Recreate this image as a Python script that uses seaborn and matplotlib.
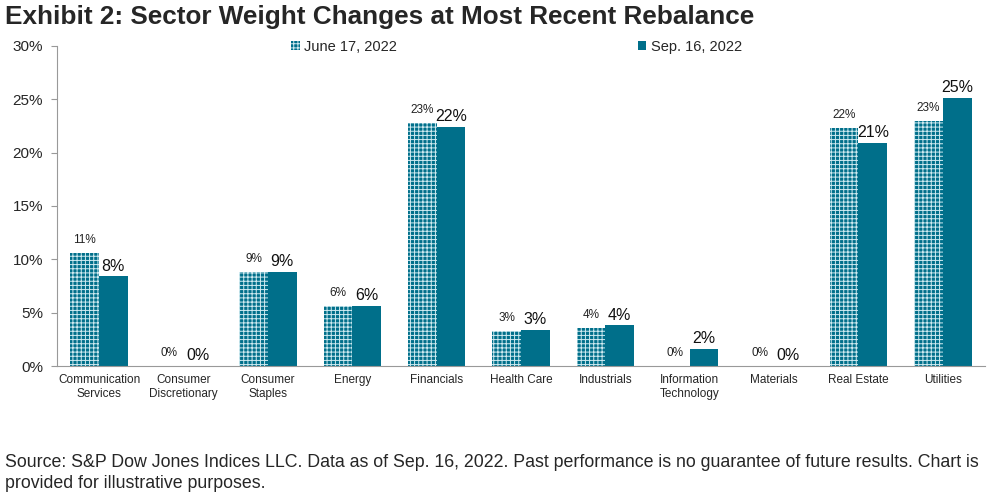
import matplotlib
matplotlib.use("Agg")
import matplotlib.pyplot as plt
import seaborn as sns
import pandas as pd
from matplotlib.patches import Patch
from matplotlib import font_manager

categories = ["Communication\nServices", "Consumer\nDiscretionary", "Consumer\nStaples", "Energy",
              "Financials", "Health Care", "Industrials", "Information\nTechnology", "Materials",
              "Real Estate", "Utilities"]
june = [10.6, 0.0, 8.8, 5.6, 22.8, 3.3, 3.6, 0.0, 0.0, 22.3, 23.0]
sep = [8.4, 0.0, 8.8, 5.6, 22.4, 3.4, 3.8, 1.6, 0.0, 20.9, 25.1]
series = ["June 17, 2022", "Sep. 16, 2022"]
yticks = [0, 5, 10, 15, 20, 25, 30]

sns.set_style("white")
plt.rcParams['font.family'] = ['Liberation Sans', 'DejaVu Sans']
plt.rcParams['hatch.linewidth'] = 0.7

names = {f.name for f in font_manager.fontManager.ttflist}
narrow = "Liberation Sans Narrow" in names

df = pd.DataFrame({
    "Sector": categories * 2,
    "Weight": june + sep,
    "Date": [series[0]] * len(categories) + [series[1]] * len(categories),
})

teal = "#006F8A"
hatch_col = "#cfeaf0"
fig = plt.figure(figsize=(9.98, 4.98), dpi=100)
ax = fig.add_axes([0.057, 0.265, 0.93, 0.643])
sns.barplot(data=df, x="Sector", y="Weight", hue="Date", palette=[teal, teal],
            width=0.68, ax=ax, legend=False, saturation=1)

june_c, sep_c = ax.containers[0], ax.containers[1]
for p in june_c:
    p.set_facecolor(teal)
    p.set_edgecolor(hatch_col)
    p.set_hatch("++++")
    p.set_linewidth(0)
for p in sep_c:
    p.set_linewidth(0)

ax.bar_label(june_c, labels=[f"{v:.0f}%" for v in june], fontsize=8.5, padding=5, color="#222222")
ax.bar_label(sep_c, labels=[f"{v:.0f}%" for v in sep], fontsize=11.5, padding=2, color="#111111")

ax.set_ylim(0, 30)
ax.set_yticks(yticks)
ax.set_yticklabels([f"{t}%" for t in yticks], fontsize=11)
ax.set_xlim(-0.5, len(categories) - 0.5)
ax.set_xlabel("")
ax.set_ylabel("")
ax.set_xticks(range(len(categories)))
ax.set_xticklabels(categories, fontsize=8.5)
ax.tick_params(axis="x", length=0, pad=6)
ax.set_xticks([i + 0.5 for i in range(-1, len(categories))], minor=True)
ax.tick_params(axis="x", which="minor", length=5, color="#999999", direction="out")
ax.tick_params(axis="y", length=4, color="#999999", left=True, direction="out", pad=6)
for s in ["top", "right"]:
    ax.spines[s].set_visible(False)
ax.spines["left"].set_color("#999999")
ax.spines["bottom"].set_color("#999999")

handles = [Patch(facecolor=teal, edgecolor=hatch_col, hatch="++++", linewidth=0),
           Patch(facecolor=teal, linewidth=0)]
ax.legend(handles, series, loc="upper center", bbox_to_anchor=(0.495, 1.06), ncol=2,
          frameon=False, fontsize=10.5, handlelength=0.6, handleheight=0.6,
          handletextpad=0.3, columnspacing=16.5)

if narrow:
    fig.text(0.005, 0.965, "Exhibit 2: Sector Weight Changes at Most Recent Rebalance",
             fontsize=21, fontweight="bold", va="center", ha="left",
             family=["Liberation Sans Narrow", "DejaVu Sans"])
else:
    fig.text(0.005, 0.965, "Exhibit 2: Sector Weight Changes at Most Recent Rebalance",
             fontsize=18.8, fontweight="bold", va="center", ha="left")
fig.text(0.005, 0.05, "Source: S&P Dow Jones Indices LLC. Data as of Sep. 16, 2022. Past performance is no guarantee of future results. Chart is\nprovided for illustrative purposes.",
         fontsize=12.8, va="center", ha="left", linespacing=1.25)

fig.savefig("out.png", dpi=100)
